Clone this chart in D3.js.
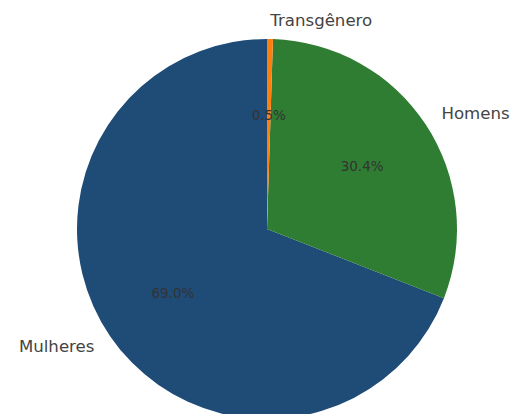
<!DOCTYPE html>
<html>
<head>
<meta charset="utf-8">
<script src="https://cdn.jsdelivr.net/npm/d3@7"></script>
<style>
    html, body { margin: 0; padding: 0; background: #fff; }
    svg { display: block; }
    .slice-label { font-family: "DejaVu Sans", sans-serif; font-size: 16.6px; fill: #444; }
    .pct-label { font-family: "DejaVu Sans", sans-serif; font-size: 13.5px; fill: #333; }
</style>
</head>
<body>
<div id="chart"></div>
<script>
// values (percent of total)
const categories = ['Mulheres', 'Homens', 'Transgênero'];
const values = [69.0, 30.4, 0.5];
const colors = ['#1f4c77', '#2e7d32', '#ff7f0e'];

const width = 526;
const height = 414;
const cx = 267;
const cy = 229;
const radius = 190;

const svg = d3.select('#chart')
    .append('svg')
    .attr('width', width)
    .attr('height', height);

const g = svg.append('g')
    .attr('transform', `translate(${cx},${cy})`);

const data = categories.map((name, i) => ({ name, value: values[i], color: colors[i] }));

// counter-clockwise from the top, like matplotlib startangle=90
const pie = d3.pie()
    .sort(null)
    .value((d) => d.value)
    .startAngle(0)
    .endAngle(-2 * Math.PI);

const arcs = pie(data);

const arc = d3.arc()
    .innerRadius(0)
    .outerRadius(radius);

g.selectAll('path.slice')
    .data(arcs)
    .enter()
    .append('path')
    .attr('class', 'slice')
    .attr('d', arc)
    .attr('fill', (d) => d.data.color);

// label positions: names at 1.1 r, percents at 0.6 r
const mid = (d) => (d.startAngle + d.endAngle) / 2;

g.selectAll('text.slice-label')
    .data(arcs)
    .enter()
    .append('text')
    .attr('class', 'slice-label')
    .attr('x', (d) => Math.sin(mid(d)) * radius * 1.1)
    .attr('y', (d) => -Math.cos(mid(d)) * radius * 1.1)
    .attr('dominant-baseline', 'central')
    .attr('text-anchor', (d) => (Math.sin(mid(d)) >= 0 ? 'start' : 'end'))
    .text((d) => d.data.name);

g.selectAll('text.pct-label')
    .data(arcs)
    .enter()
    .append('text')
    .attr('class', 'pct-label')
    .attr('x', (d) => Math.sin(mid(d)) * radius * 0.6)
    .attr('y', (d) => -Math.cos(mid(d)) * radius * 0.6)
    .attr('dominant-baseline', 'central')
    .attr('text-anchor', 'middle')
    .text((d) => `${d.data.value.toFixed(1)}%`);
</script>
</body>
</html>
